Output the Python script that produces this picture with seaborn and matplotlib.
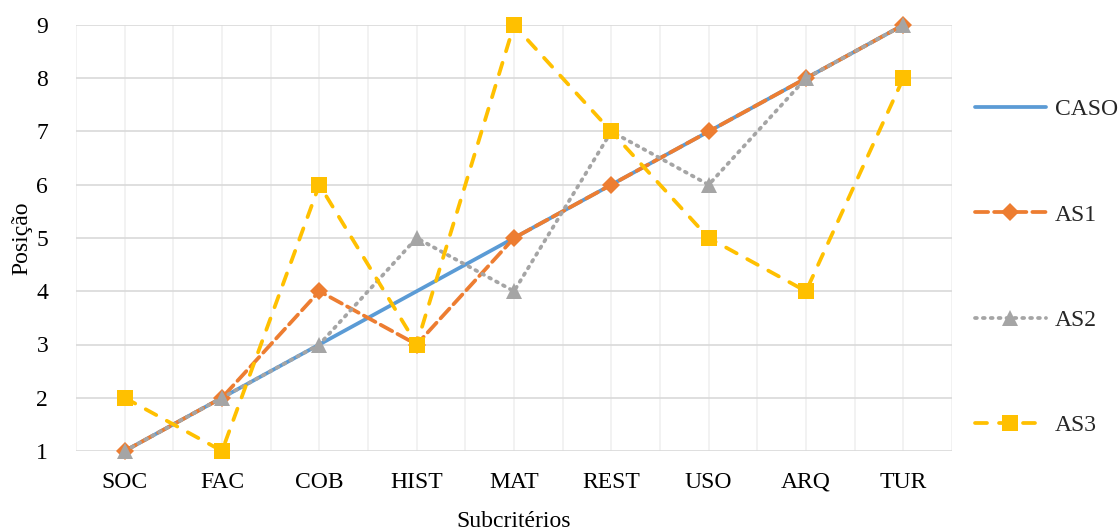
import matplotlib

matplotlib.use("Agg")
import matplotlib.pyplot as plt
import pandas as pd
import seaborn as sns

sns.set_theme(style="white")
plt.rcParams["font.family"] = ["Liberation Serif", "DejaVu Serif"]

subcriterios = ["SOC", "FAC", "COB", "HIST", "MAT", "REST", "USO", "ARQ", "TUR"]
caso = [1, 2, 3, 4, 5, 6, 7, 8, 9]
as1 = [1, 2, 4, 3, 5, 6, 7, 8, 9]
as2 = [1, 2, 3, 5, 4, 7, 6, 8, 9]
as3 = [2, 1, 6, 3, 9, 7, 5, 4, 8]

series = {"CASO": caso, "AS1": as1, "AS2": as2, "AS3": as3}
styles = {
    "CASO": dict(color="#5B9BD5", linestyle="-", marker=None),
    "AS1": dict(color="#ED7D31", linestyle=(0, (3.5, 1.6)), marker="D", markersize=9),
    "AS2": dict(color="#A5A5A5", linestyle=(0, (0.5, 1.6)), marker="^", markersize=11),
    "AS3": dict(color="#FFC000", linestyle=(0, (3.2, 3.2)), marker="s", markersize=11),
}

fig = plt.figure(figsize=(11.18, 5.31), dpi=100)
ax = fig.add_axes([76 / 1118, 1 - 451 / 531, (952 - 76) / 1118, (451 - 25) / 531])

for name, vals in series.items():
    df = pd.DataFrame({"Subcritérios": subcriterios, "Posição": vals})
    st = styles[name]
    sns.lineplot(data=df, x="Subcritérios", y="Posição", ax=ax, label=name,
                 color=st["color"], linestyle=st["linestyle"], marker=st["marker"],
                 markersize=st.get("markersize", 0), markeredgewidth=0,
                 linewidth=2.7, sort=False, dash_capstyle="round", clip_on=False)

ax.set_xlim(-0.5, len(subcriterios) - 0.5)
ax.set_ylim(1, 9)
ax.set_yticks(range(1, 10))
ax.set_xticks(range(len(subcriterios)))
ax.set_xticks([i - 0.5 for i in range(len(subcriterios) + 1)], minor=True)
ax.grid(axis="y", color="#d9d9d9", linewidth=1.2)
ax.grid(axis="x", which="both", color="#f0f0f0", linewidth=1.2)
ax.set_axisbelow(True)
for s in ax.spines.values():
    s.set_visible(False)
ax.tick_params(axis="both", which="both", length=0, labelsize=17, colors="black")
ax.tick_params(axis="x", pad=15)
ax.tick_params(axis="y", pad=20)
ax.set_xlabel("Subcritérios", fontsize=17, color="black", labelpad=13)
ax.set_ylabel("Posição", fontsize=17, color="black", labelpad=3)

handles, labels = ax.get_legend_handles_labels()
ax.get_legend().remove()
fig.legend(handles, labels, loc="center left", bbox_to_anchor=(0.872, 0.496),
           frameon=False, fontsize=17, handlelength=3.0, handletextpad=0.4,
           labelspacing=3.55, borderpad=0, borderaxespad=0)

fig.savefig("out.png", dpi=100)
